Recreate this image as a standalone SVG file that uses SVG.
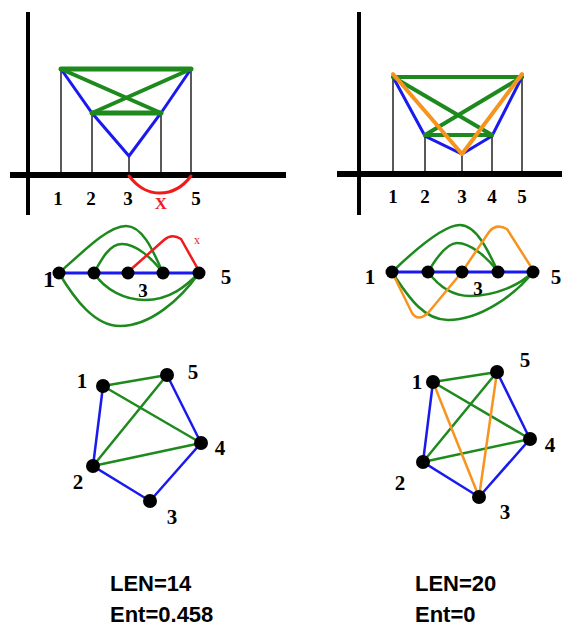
<svg xmlns="http://www.w3.org/2000/svg" width="562" height="629" viewBox="0 0 562 629">
<style>
.ax{stroke:#000;stroke-linecap:butt;fill:none}
.thin{stroke:#000;stroke-width:1.3;fill:none}
.g{stroke:#1e8a1e;fill:none;stroke-linecap:round}
.b{stroke:#1a1aee;fill:none;stroke-linecap:round}
.o{stroke:#f7941d;fill:none;stroke-linecap:round}
.r{stroke:#ee1c1c;fill:none;stroke-linecap:round}
.num{font-family:"Liberation Serif","DejaVu Serif",serif;font-weight:bold;font-size:19px;fill:#000;text-anchor:middle}
.big{font-size:21px}
.res{font-family:"Liberation Sans",Arial,sans-serif;font-weight:bold;font-size:22px;fill:#000}
.dot{fill:#000}
</style>
<rect width="562" height="629" fill="#fff"/>

<!-- top-left panel -->
<g id="axes-left">
<line class="ax" x1="28" y1="12" x2="28" y2="215" stroke-width="4"/>
<line class="ax" x1="10" y1="175" x2="286" y2="175" stroke-width="6"/>
</g>
<g id="connectors-top-left">
<line class="thin" x1="61" y1="69" x2="61" y2="175"/>
<line class="thin" x1="92" y1="113" x2="92" y2="175"/>
<line class="thin" x1="129" y1="156" x2="129" y2="175"/>
<line class="thin" x1="161" y1="113" x2="161" y2="175"/>
<line class="thin" x1="191" y1="69" x2="191" y2="175"/>
<polyline class="b" stroke-width="3" points="61,69 92,113 129,156 161,113 191,69"/>
<line class="g" stroke-width="5" x1="61" y1="69" x2="191" y2="69"/>
<line class="g" stroke-width="4" x1="61" y1="69" x2="161" y2="113"/>
<line class="g" stroke-width="4" x1="191" y1="69" x2="92" y2="113"/>
<line class="g" stroke-width="5" x1="92" y1="113" x2="161" y2="113"/>
<path class="r" stroke-width="3" d="M129,176 C140,190 150,193 160,193 C172,193 182,188 191,176"/>
</g>
<g id="labels-top-left">
<text class="num" x="58" y="205">1</text>
<text class="num" x="91" y="205">2</text>
<text class="num" x="128" y="205">3</text>
<text class="num" x="161" y="209" style="fill:#ee1c1c;font-size:17px">X</text>
<text class="num" x="196" y="205">5</text>
</g>

<!-- top-right panel -->
<g id="axes-right">
<line class="ax" x1="359" y1="12" x2="359" y2="215" stroke-width="4"/>
<line class="ax" x1="337" y1="174" x2="562" y2="174" stroke-width="6"/>
</g>
<g id="connectors-top-right">
<line class="thin" x1="393" y1="75" x2="393" y2="174"/>
<line class="thin" x1="425" y1="136" x2="425" y2="174"/>
<line class="thin" x1="462" y1="154" x2="462" y2="174" stroke-width="2.5"/>
<line class="thin" x1="492" y1="136" x2="492" y2="174"/>
<line class="thin" x1="522" y1="75" x2="522" y2="174"/>
<polyline class="b" stroke-width="3" points="393,77 425,136 462,154 492,136 522,77"/>
<line class="g" stroke-width="4" x1="393" y1="77" x2="522" y2="77"/>
<line class="g" stroke-width="4" x1="393" y1="77" x2="492" y2="135"/>
<line class="g" stroke-width="4" x1="522" y1="77" x2="425" y2="135"/>
<line class="g" stroke-width="4" x1="425" y1="135" x2="492" y2="135"/>
<line class="o" stroke-width="4" x1="393" y1="74" x2="462" y2="154"/>
<line class="o" stroke-width="4" x1="522" y1="74" x2="462" y2="154"/>
</g>
<g id="labels-top-right">
<text class="num" x="393" y="203">1</text>
<text class="num" x="425" y="203">2</text>
<text class="num" x="462" y="203">3</text>
<text class="num" x="492" y="203">4</text>
<text class="num" x="522" y="203">5</text>
</g>

<!-- middle-left arc diagram -->
<g id="connectors-mid-left">
<path class="g" stroke-width="2.5" d="M59,273 C90,245 110,226 126,226 C142,226 152,248 163,273"/>
<path class="g" stroke-width="2.5" d="M94,273 C102,258 110,244 122,244 C136,244 152,258 163,273"/>
<path class="g" stroke-width="2.5" d="M94,273 C105,290 125,300 145,300 C170,300 186,286 199,273"/>
<path class="g" stroke-width="2.5" d="M59,273 C75,300 95,326 120,326 C150,326 180,300 199,273"/>
<path class="r" stroke-width="2.5" d="M128,272 L164,240 Q172,233 181,239 L199,271"/>
<line class="b" stroke-width="3" x1="59" y1="273" x2="199" y2="273"/>
</g>
<g id="nodes-mid-left">
<circle class="dot" cx="59" cy="273" r="6.5"/>
<circle class="dot" cx="94" cy="273" r="6.5"/>
<circle class="dot" cx="128" cy="273" r="6.5"/>
<circle class="dot" cx="163" cy="273" r="6.5"/>
<circle class="dot" cx="199" cy="273" r="6.5"/>
<text class="num" x="49" y="287" style="font-size:24px">1</text>
<text class="num" x="143" y="297">3</text>
<text class="num big" x="226" y="284">5</text>
<text class="num" x="197" y="244" style="fill:#ee1c1c;font-size:12px;font-weight:normal">x</text>
</g>

<!-- middle-right arc diagram -->
<g id="connectors-mid-right">
<path class="g" stroke-width="2.5" d="M392,272 C420,245 445,225 460,225 C476,225 488,250 498,272"/>
<path class="g" stroke-width="2.5" d="M428,272 C438,255 448,243 457,243 C471,243 488,258 498,272"/>
<path class="g" stroke-width="2.5" d="M428,272 C440,288 455,296 470,296 C495,296 520,285 533,272"/>
<path class="g" stroke-width="2.5" d="M392,272 C410,300 425,320 448,320 C480,320 515,295 533,272"/>
<path class="o" stroke-width="2.5" d="M462,272 L489,232 Q496,223 507,229 L533,270"/>
<path class="o" stroke-width="2.5" d="M392,272 L412,313 Q418,322 428,313 L462,272"/>
<line class="b" stroke-width="3" x1="392" y1="272" x2="533" y2="272"/>
</g>
<g id="nodes-mid-right">
<circle class="dot" cx="392" cy="272" r="6.5"/>
<circle class="dot" cx="428" cy="272" r="6.5"/>
<circle class="dot" cx="462" cy="272" r="6.5"/>
<circle class="dot" cx="498" cy="272" r="6.5"/>
<circle class="dot" cx="533" cy="272" r="6.5"/>
<text class="num big" x="370" y="284">1</text>
<text class="num" x="478" y="295">3</text>
<text class="num big" x="556" y="284">5</text>
</g>

<!-- bottom-left graph -->
<g id="connectors-bottom-left">
<polyline class="b" stroke-width="2.5" points="103,386 93,466 150,501 201,443 167,375"/>
<line class="g" stroke-width="2.5" x1="103" y1="386" x2="167" y2="375"/>
<line class="g" stroke-width="2.5" x1="103" y1="386" x2="201" y2="443"/>
<line class="g" stroke-width="2.5" x1="93" y1="466" x2="167" y2="375"/>
<line class="g" stroke-width="2.5" x1="93" y1="466" x2="201" y2="443"/>
</g>
<g id="nodes-bottom-left">
<circle class="dot" cx="103" cy="386" r="7"/>
<circle class="dot" cx="167" cy="375" r="7"/>
<circle class="dot" cx="201" cy="443" r="7"/>
<circle class="dot" cx="93" cy="466" r="7"/>
<circle class="dot" cx="150" cy="501" r="7"/>
<text class="num big" x="82" y="388">1</text>
<text class="num big" x="193" y="379">5</text>
<text class="num big" x="220" y="455">4</text>
<text class="num big" x="78" y="489">2</text>
<text class="num big" x="172" y="524">3</text>
</g>

<!-- bottom-right graph -->
<g id="connectors-bottom-right">
<polyline class="b" stroke-width="2.5" points="433,382 423,462 479,497 530,439 497,372"/>
<line class="g" stroke-width="2.5" x1="433" y1="382" x2="497" y2="372"/>
<line class="g" stroke-width="2.5" x1="433" y1="382" x2="530" y2="439"/>
<line class="g" stroke-width="2.5" x1="423" y1="462" x2="497" y2="372"/>
<line class="g" stroke-width="2.5" x1="423" y1="462" x2="530" y2="439"/>
<line class="o" stroke-width="2.5" x1="433" y1="382" x2="479" y2="497"/>
<line class="o" stroke-width="2.5" x1="497" y1="372" x2="479" y2="497"/>
</g>
<g id="nodes-bottom-right">
<circle class="dot" cx="433" cy="382" r="7"/>
<circle class="dot" cx="497" cy="372" r="7"/>
<circle class="dot" cx="530" cy="439" r="7"/>
<circle class="dot" cx="423" cy="462" r="7"/>
<circle class="dot" cx="479" cy="497" r="7"/>
<text class="num big" x="417" y="389">1</text>
<text class="num big" x="525" y="367">5</text>
<text class="num big" x="550" y="452">4</text>
<text class="num big" x="400" y="490">2</text>
<text class="num big" x="505" y="519">3</text>
</g>

<g id="results">
<text class="res" x="110" y="591">LEN=14</text>
<text class="res" x="110" y="622">Ent=0.458</text>
<text class="res" x="415" y="591">LEN=20</text>
<text class="res" x="415" y="622">Ent=0</text>
</g>
</svg>
